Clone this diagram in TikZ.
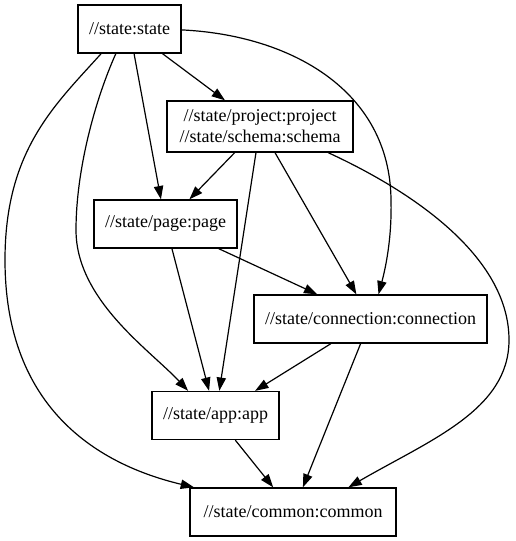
\documentclass[tikz,border=0pt]{standalone}
\usepackage{fontspec}
\setmainfont{Liberation Serif}
\usetikzlibrary{arrows.meta}
\begin{document}
\begin{tikzpicture}[x=0.75pt,y=-0.75pt,
  mod/.style={draw=black,line width=1pt,rectangle,inner sep=0pt,minimum height=36pt,font=\fontsize{13.5}{16}\selectfont,align=center},
  dep/.style={line width=0.9pt,-{Triangle[length=10pt,width=7pt]}}]
\useasboundingbox (0,0) rectangle (515,541);
\node[mod,minimum width=77.25pt] (state) at (129.5,29) {//state:state};
\node[mod,minimum width=139.5pt,minimum height=38.25pt] (proj) at (260,126.5) {//state/project:project\\//state/schema:schema};
\node[mod,minimum width=107.25pt] (page) at (165.5,224) {//state/page:page};
\node[mod,minimum width=174.75pt] (conn) at (370.5,319) {//state/connection:connection};
\node[mod,minimum width=95.25pt] (app) at (215.5,415.5) {//state/app:app};
\node[mod,minimum width=154.5pt] (common) at (293,512) {//state/common:common};
% straight edges
\draw[dep] (state) -- (proj);
\draw[dep] (state) -- (page);
\draw[dep] (proj) -- (page);
\draw[dep] (proj) -- (app);
\draw[dep] (proj) -- (conn);
\draw[dep] (page) -- (conn);
\draw[dep] (page) -- (app);
\draw[dep] (conn) -- (app);
\draw[dep] (conn) -- (common);
\draw[dep] (app) -- (common);
% curved edges
\draw[dep] (state.-119.4) .. controls (95,100) and (76,170) .. (76,230)
  .. controls (76,300) and (150,350) .. (app.138.3);
\draw[dep] (state.-139.9) .. controls (55,105) and (5,150) .. (5,260)
  .. controls (5,410) and (100,465) .. (common.166.6);
\draw[dep] (state.-1.1) .. controls (290,35) and (390,90) .. (391,200)
  .. controls (392,240) and (385,270) .. (conn.72.6);
\draw[dep] (proj.-21.7) .. controls (420,195) and (509,260) .. (509,340)
  .. controls (509,410) and (430,440) .. (common.24);
\end{tikzpicture}
\end{document}
